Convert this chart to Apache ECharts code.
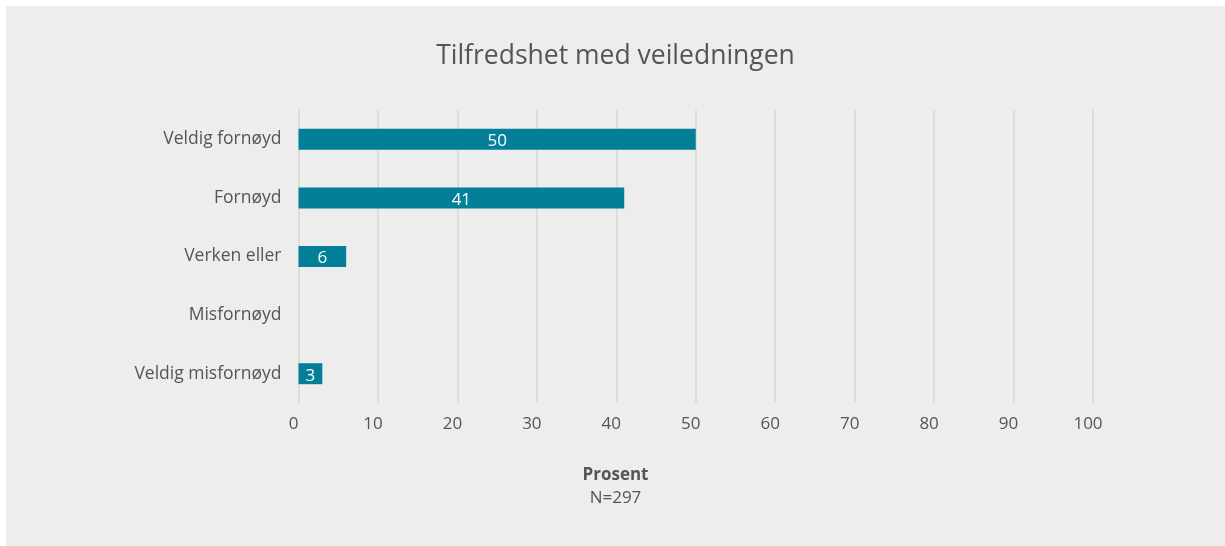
<!DOCTYPE html>
<html>
<head>
<meta charset="utf-8">
<script src="https://cdn.jsdelivr.net/npm/echarts@6/dist/echarts.min.js"></script>
<style>
  html, body { margin: 0; padding: 0; background: #ffffff; }
  #chart { position: absolute; left: 6px; top: 6px; width: 1219px; height: 540px; }
</style>
</head>
<body>
<div id="chart"></div>
<script>
  var categories = ['Veldig fornøyd', 'Fornøyd', 'Verken eller', 'Misfornøyd', 'Veldig misfornøyd'];
  var values = [50, 41, 6, 0, 3];
  var titleText = 'Tilfredshet med veiledningen';
  var axisTitle = 'Prosent';
  var noteText = 'N=297';

  var chart = echarts.init(document.getElementById('chart'));
  var font = '"Open Sans", sans-serif';

  var option = {
    backgroundColor: '#ededed',
    animation: false,
    textStyle: { fontFamily: font },
    title: [{
      text: titleText,
      left: 'center',
      top: 32,
      textStyle: { fontSize: 26.5, fontWeight: 'normal', color: '#555555', fontFamily: font }
    }, {
      text: axisTitle,
      subtext: noteText,
      left: 'center',
      top: 456,
      itemGap: 6,
      textStyle: { fontSize: 17, fontWeight: 'bold', color: '#555555', fontFamily: font },
      subtextStyle: { fontSize: 17, color: '#555555', fontFamily: font }
    }],
    grid: { left: 292.5, right: 132, top: 104, bottom: 143, containLabel: false },
    xAxis: {
      type: 'value',
      min: 0,
      max: 100,
      interval: 10,
      axisLine: { show: false },
      axisTick: { show: false },
      splitLine: { show: true, lineStyle: { color: '#dcdcdc', width: 2 } },
      axisLabel: { color: '#555555', fontSize: 17, margin: 13, padding: [0, 10, 0, 0], fontFamily: font }
    },
    yAxis: {
      type: 'category',
      data: categories,
      inverse: true,
      axisLine: { show: false },
      axisTick: { show: false },
      axisLabel: { color: '#555555', fontSize: 17.5, margin: 17, fontFamily: font }
    },
    series: [{
      type: 'bar',
      data: values,
      barWidth: 21,
      itemStyle: { color: '#037f98' },
      label: {
        show: true,
        position: 'inside',
        color: '#ffffff',
        fontSize: 17,
        fontFamily: font,
        offset: [0, 2],
        formatter: function (p) { return p.value ? String(p.value) : ''; }
      }
    }]
  };
  chart.setOption(option);
</script>
</body>
</html>
